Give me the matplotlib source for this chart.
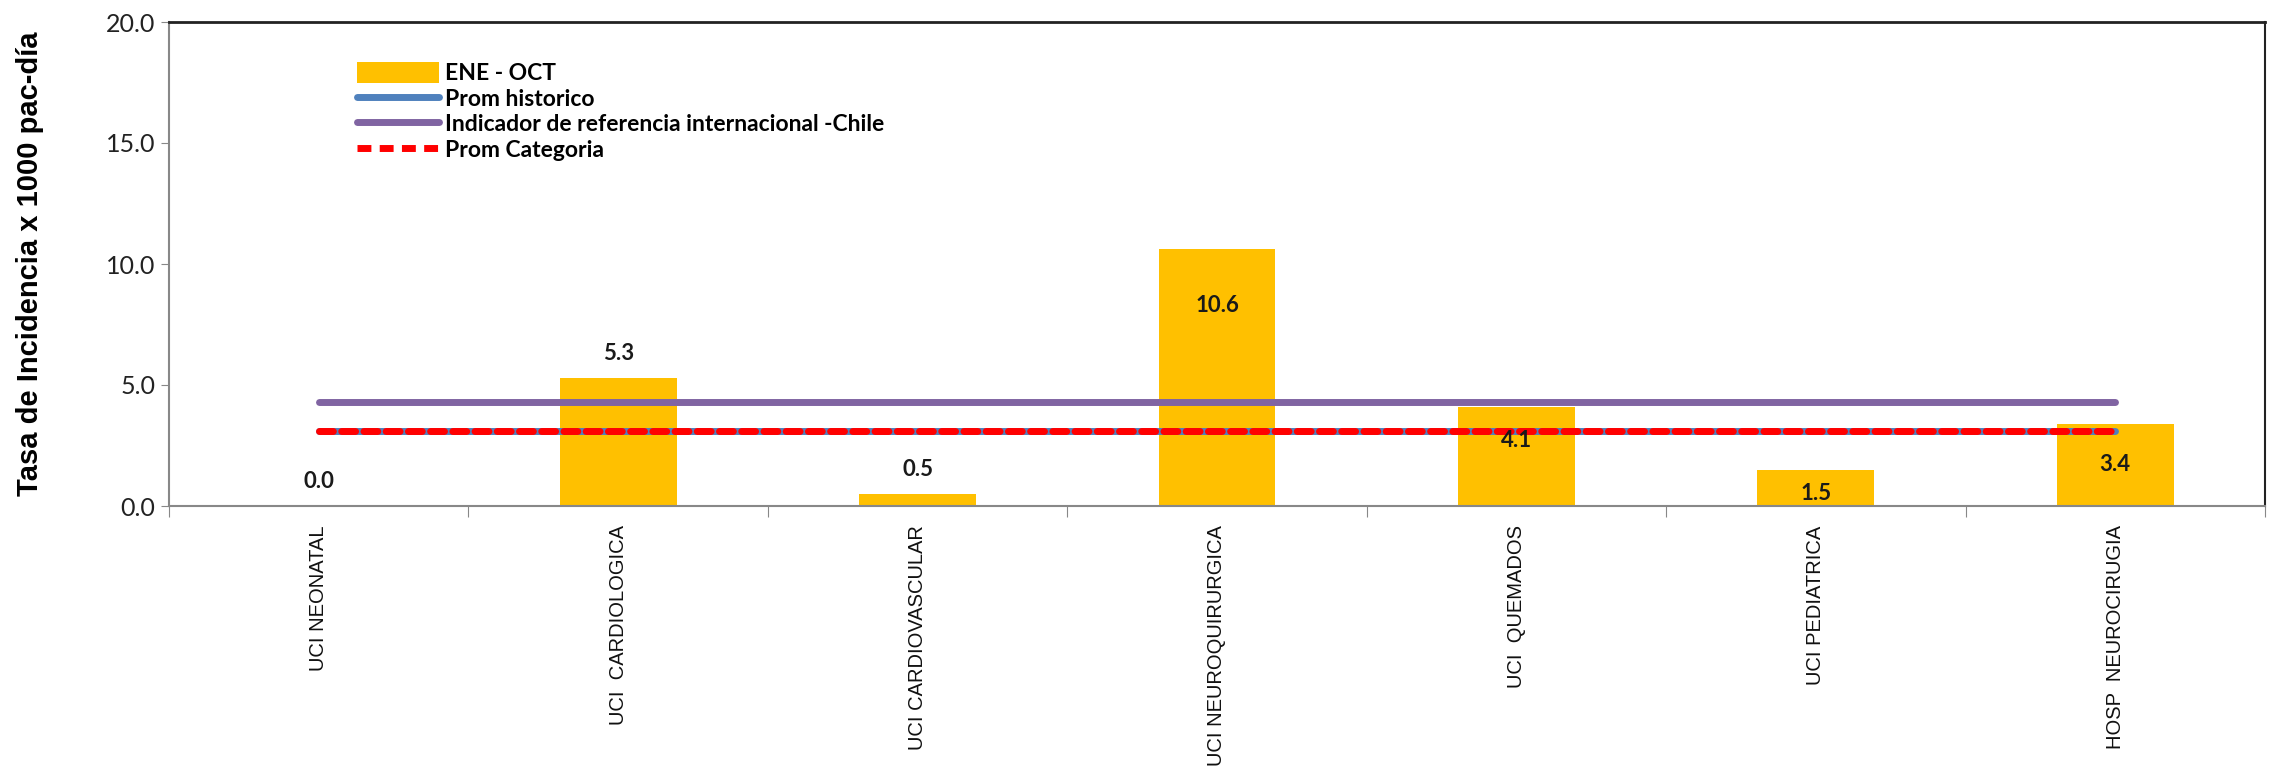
import matplotlib
matplotlib.use("Agg")
import matplotlib.pyplot as plt
from matplotlib.patches import Patch
from matplotlib.lines import Line2D

categories = ["UCI NEONATAL", "UCI  CARDIOLOGICA", "UCI CARDIOVASCULAR", "UCI NEUROQUIRURGICA",
              "UCI  QUEMADOS", "UCI PEDIATRICA", "HOSP  NEUROCIRUGIA"]
values = [0.0, 5.3, 0.5, 10.6, 4.1, 1.5, 3.4]
label_y = [1.0, 6.3, 1.5, 8.3, 2.7, 0.5, 1.7]
prom_historico = 3.1
indicador_chile = 4.3
prom_categoria = 3.1
series_names = ["ENE - OCT", "Prom historico", "Indicador de referencia internacional -Chile", "Prom Categoria"]

narrow = "Lato"

fig = plt.figure(figsize=(22.69, 7.7), dpi=100)
ax = fig.add_axes([169/2269, 1-506/770, (2265-169)/2269, (506-22)/770])

x = list(range(len(categories)))
ax.bar(x, values, width=0.39, color="#FFC000", zorder=2)
ax.plot([x[0], x[-1]], [indicador_chile]*2, color="#8064A2", lw=5, solid_capstyle="round", zorder=3)
ax.plot([x[0], x[-1]], [prom_historico]*2, color="#4F81BD", lw=5, solid_capstyle="round", zorder=3)
ax.plot([x[0], x[-1]], [prom_categoria]*2, color="#FF0000", lw=5, dashes=(2, 1.2), dash_capstyle="round", zorder=4)

for xi, v, ly in zip(x, values, label_y):
    ax.text(xi, ly, f"{v:.1f}", ha="center", va="center", fontsize=16, family=narrow,
            fontweight="bold", color="#1a1a1a", zorder=5)

ax.set_xlim(-0.5, len(categories) - 0.5)
ax.set_ylim(0, 20)
ax.set_yticks([0, 5, 10, 15, 20])
ax.set_yticklabels([f"{t:.1f}" for t in [0, 5, 10, 15, 20]], fontsize=18, family=narrow, color="#222222")
ax.set_xticks([i - 0.5 for i in range(len(categories) + 1)])
ax.set_xticklabels([])
ax.set_xticks(x, minor=True)
ax.set_xticklabels(categories, minor=True, rotation=90, fontsize=14.5, va="top", ha="center",
                   color="#111111", family="Liberation Sans")
ax.tick_params(axis="x", which="minor", length=0, pad=14)
ax.tick_params(axis="x", which="major", length=8, color="#888888", direction="out")
ax.tick_params(axis="y", length=6, color="#888888", direction="out", pad=4)

for s in ["left", "bottom"]:
    ax.spines[s].set_color("#888888")
    ax.spines[s].set_linewidth(1.5)
ax.spines["top"].set_color("#222222")
ax.spines["top"].set_linewidth(2)
ax.spines["right"].set_color("#222222")
ax.spines["right"].set_linewidth(1.5)

ax.set_ylabel("Tasa de Incidencia x 1000 pac-día", fontsize=21, fontweight="bold",
              family="Liberation Sans", labelpad=44)

handles = [Patch(facecolor="#FFC000"),
           Line2D([], [], color="#4F81BD", lw=5, solid_capstyle="round"),
           Line2D([], [], color="#8064A2", lw=5, solid_capstyle="round"),
           Line2D([], [], color="#FF0000", lw=5, dashes=(2, 1.2))]
ax.legend(handles, series_names, loc="upper left", bbox_to_anchor=(0.082, 0.95), frameon=False,
          prop={"family": narrow, "size": 16.5, "weight": "bold"}, handlelength=3.6, handleheight=1.0,
          handletextpad=0.25, labelspacing=0.15, borderaxespad=0.3)

fig.savefig("out.png", dpi=100)
